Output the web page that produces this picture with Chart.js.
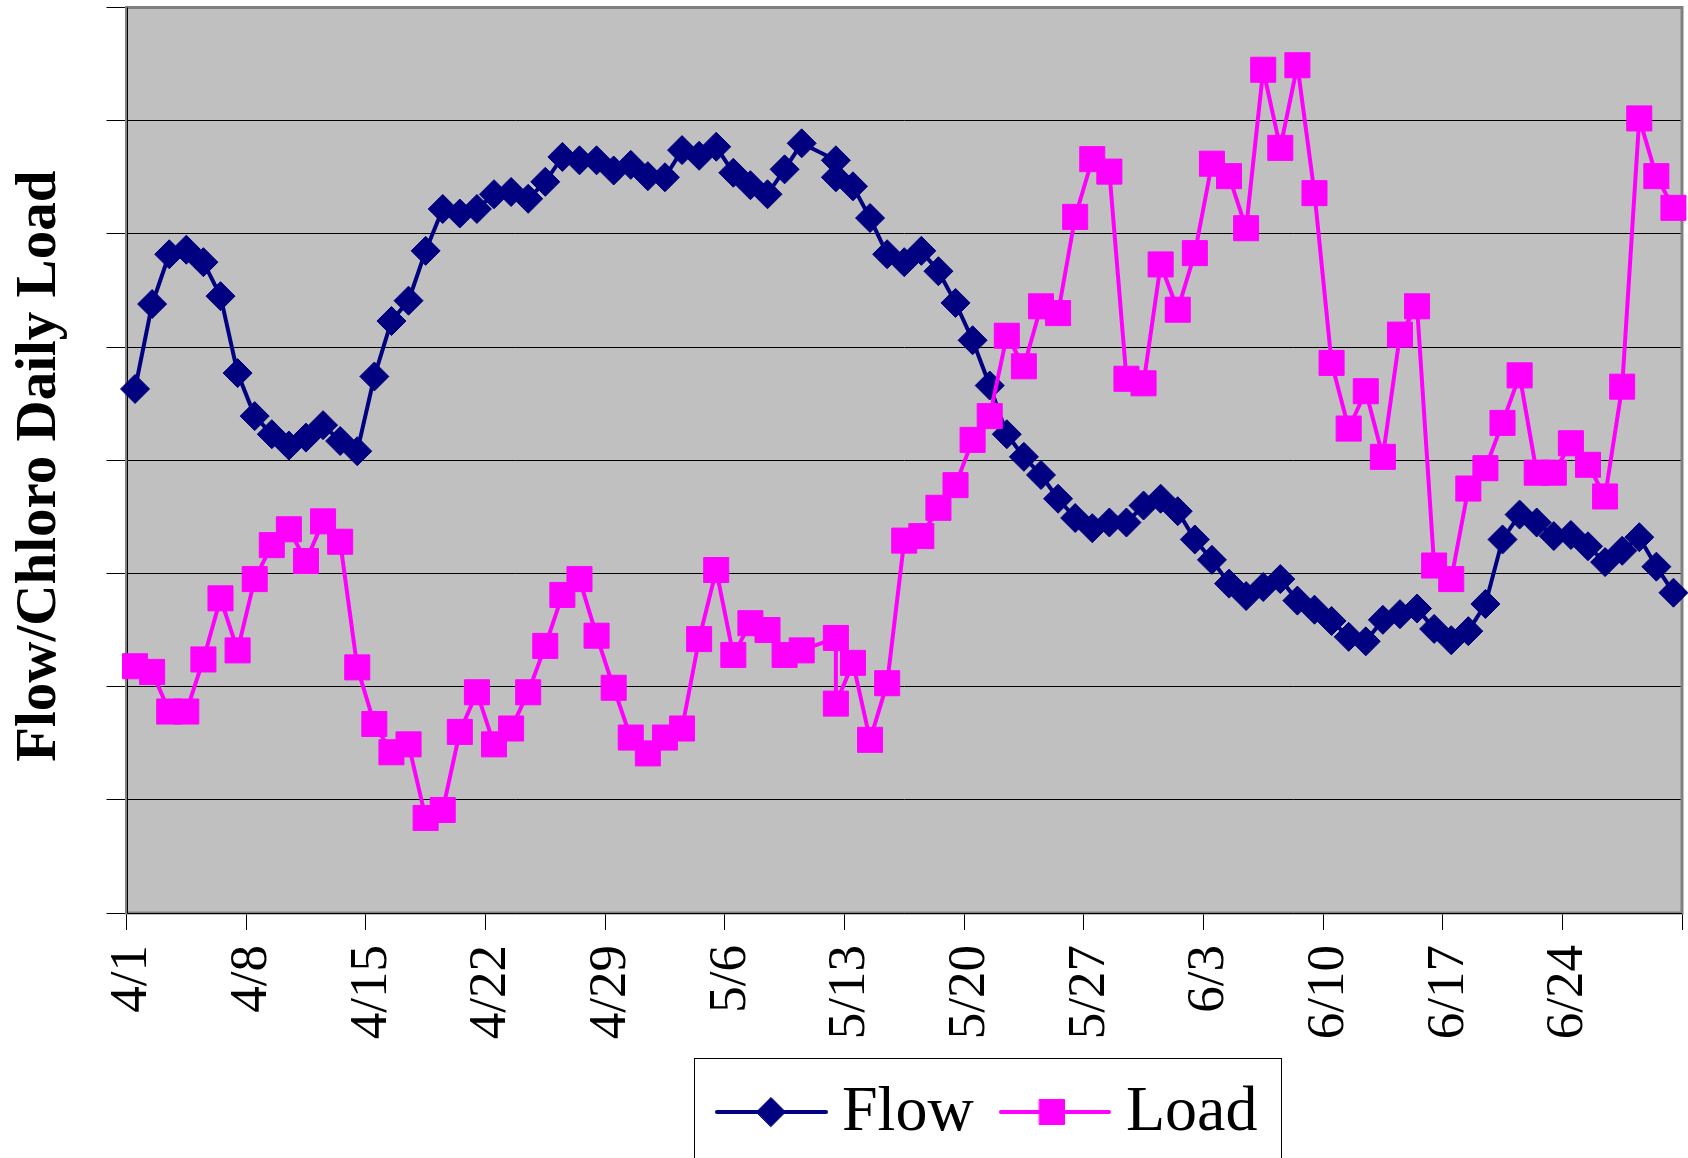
<!DOCTYPE html>
<html>
<head>
<meta charset="utf-8">
<script src="https://cdn.jsdelivr.net/npm/chart.js@4/dist/chart.umd.min.js"></script>
<style>
  html, body { margin: 0; padding: 0; background: #ffffff; }
  #wrap { position: relative; width: 1688px; height: 1158px; }
</style>
</head>
<body>
<div id="wrap"><canvas id="c" width="1688" height="1158"></canvas></div>
<script>
// ---- data ----
const dates = [
  '4/1','4/2','4/3','4/4','4/5','4/6','4/7','4/8','4/9','4/10',
  '4/11','4/12','4/13','4/14','4/15','4/16','4/17','4/18','4/19','4/20',
  '4/21','4/22','4/23','4/24','4/25','4/26','4/27','4/28','4/29','4/30',
  '5/1','5/2','5/3','5/4','5/5','5/6','5/7','5/8','5/9','5/10',
  '5/12','5/12','5/13','5/14','5/15','5/16','5/17','5/18','5/19','5/20',
  '5/21','5/22','5/23','5/24','5/25','5/26','5/27','5/28','5/29','5/30',
  '5/31','6/1','6/2','6/3','6/4','6/5','6/6','6/7','6/8','6/9',
  '6/10','6/11','6/12','6/13','6/14','6/15','6/16','6/17','6/18','6/19',
  '6/20','6/21','6/22','6/23','6/24','6/25','6/26','6/27','6/28','6/29',
  '6/30'
];
const flow = [
  4.63,5.38,5.82,5.86,5.75,5.45,4.77,4.39,4.23,4.13,
  4.20,4.31,4.17,4.08,4.74,5.23,5.41,5.85,6.22,6.18,
  6.22,6.35,6.37,6.31,6.46,6.68,6.65,6.65,6.56,6.61,
  6.51,6.50,6.74,6.69,6.77,6.54,6.43,6.35,6.57,6.80,
  6.65,6.50,6.42,6.14,5.82,5.75,5.85,5.67,5.39,5.06,
  4.66,4.23,4.03,3.87,3.66,3.49,3.40,3.45,3.45,3.60,
  3.66,3.55,3.30,3.12,2.91,2.80,2.88,2.95,2.76,2.68,
  2.58,2.44,2.40,2.59,2.64,2.69,2.51,2.41,2.49,2.73,
  3.30,3.52,3.45,3.33,3.34,3.24,3.10,3.20,3.32,3.06,
  2.83
];
const load = [
  2.18,2.13,1.78,1.78,2.24,2.78,2.32,2.95,3.25,3.39,
  3.11,3.46,3.28,2.17,1.67,1.42,1.49,0.84,0.91,1.60,
  1.95,1.49,1.63,1.95,2.36,2.81,2.95,2.45,1.99,1.55,
  1.41,1.55,1.63,2.42,3.03,2.28,2.56,2.50,2.28,2.32,
  2.43,1.85,2.21,1.53,2.03,3.29,3.33,3.58,3.78,4.18,
  4.39,5.10,4.83,5.36,5.30,6.15,6.66,6.55,4.72,4.68,
  5.73,5.33,5.83,6.62,6.51,6.05,7.45,6.76,7.49,6.36,
  4.86,4.28,4.61,4.03,5.11,5.36,3.07,2.95,3.75,3.93,
  4.33,4.75,3.89,3.89,4.15,3.96,3.68,4.65,7.02,6.51,
  6.23
];
const tickLabels = ['4/1','4/8','4/15','4/22','4/29','5/6','5/13','5/20','5/27','6/3','6/10','6/17','6/24'];
const seriesNames = ['Flow', 'Load'];
const yTitle = 'Flow/Chloro Daily Load';

// day position of a date on the axis (centre of that day's slot)
const firstDay = new Date(2000, 3, 1);
function dayPos(s) {
  const p = s.split('/').map(Number);
  const d = new Date(2000, p[0] - 1, p[1]);
  return Math.round((d - firstDay) / 86400000) + 0.5;
}
const flowPts = dates.map((d, i) => ({ x: dayPos(d), y: flow[i] }));
const loadPts = dates.map((d, i) => ({ x: dayPos(d), y: load[i] }));

const SERIF = "'Liberation Serif', 'Times New Roman', serif";
const NAVY = '#000080';
const MAG = '#FF00FF';

const plotDecor = {
  id: 'plotDecor',
  beforeDraw(chart) {
    const { ctx, chartArea: a } = chart;
    ctx.save();
    ctx.fillStyle = '#ffffff';
    ctx.fillRect(0, 0, chart.width, chart.height);
    ctx.fillStyle = '#C0C0C0';
    ctx.fillRect(a.left, a.top, a.right - a.left, a.bottom - a.top);
    ctx.restore();
  },
  beforeDatasetsDraw(chart) {
    const { ctx, chartArea: a } = chart;
    ctx.save();
    ctx.strokeStyle = '#808080';
    ctx.lineWidth = 3;
    ctx.strokeRect(a.left, a.top, a.right - a.left, a.bottom - a.top);
    ctx.strokeStyle = '#000000';
    ctx.lineWidth = 1;
    ctx.beginPath();
    ctx.moveTo(Math.round(a.left) + 0.5, a.top);
    ctx.lineTo(Math.round(a.left) + 0.5, Math.round(a.bottom) + 0.5);
    ctx.lineTo(a.right, Math.round(a.bottom) + 0.5);
    ctx.stroke();
    ctx.restore();
  },
  afterDraw(chart) {
    const ctx = chart.ctx;
    const ds = chart.data.datasets;
    const a = chart.chartArea;
    ctx.save();
    // y axis title
    ctx.save();
    ctx.translate(40, (a.top + a.bottom) / 2 + 6);
    ctx.rotate(-Math.PI / 2);
    ctx.fillStyle = '#000000';
    ctx.font = 'bold 57px ' + SERIF;
    ctx.textAlign = 'center';
    ctx.textBaseline = 'middle';
    ctx.fillText(yTitle, 0, 0);
    ctx.restore();
    // legend box
    ctx.strokeStyle = '#000000';
    ctx.lineWidth = 1;
    ctx.strokeRect(694.5, 1058.5, 587, 200);
    const ly = 1112;
    const items = [
      { ds: ds[0], x0: 717, x1: 826, mx: 771, tx: 842 },
      { ds: ds[1], x0: 1001, x1: 1109, mx: 1052, tx: 1126 }
    ];
    items.forEach(it => {
      ctx.strokeStyle = it.ds.borderColor;
      ctx.lineWidth = 4;
      ctx.lineCap = 'round';
      ctx.beginPath();
      ctx.moveTo(it.x0, ly);
      ctx.lineTo(it.x1, ly);
      ctx.stroke();
      ctx.fillStyle = it.ds.pointBackgroundColor;
      ctx.strokeStyle = it.ds.pointBorderColor;
      ctx.lineWidth = 1;
      Chart.helpers.drawPoint(ctx, { pointStyle: it.ds.pointStyle, radius: it.ds.pointRadius, borderWidth: 1, rotation: 0 }, it.mx, ly);
      ctx.fillStyle = '#000000';
      ctx.font = '64px ' + SERIF;
      ctx.textBaseline = 'alphabetic';
      ctx.textAlign = 'left';
      ctx.fillText(it.ds.label, it.tx, 1130);
    });
    ctx.restore();
  }
};

new Chart(document.getElementById('c').getContext('2d'), {
  type: 'line',
  data: {
    datasets: [
      {
        label: seriesNames[0], data: flowPts, order: 1,
        borderColor: NAVY, backgroundColor: NAVY, borderWidth: 4,
        pointStyle: 'rectRot', pointRadius: 14.5, pointBorderWidth: 1,
        pointBackgroundColor: NAVY, pointBorderColor: NAVY,
        tension: 0, fill: false, clip: false
      },
      {
        label: seriesNames[1], data: loadPts, order: 0,
        borderColor: MAG, backgroundColor: MAG, borderWidth: 4,
        pointStyle: 'rect', pointRadius: 17.7, pointBorderWidth: 1,
        pointBackgroundColor: MAG, pointBorderColor: MAG,
        tension: 0, fill: false, clip: false
      }
    ]
  },
  options: {
    responsive: false,
    animation: false,
    devicePixelRatio: 1,
    layout: { autoPadding: false, padding: { top: 7.5, right: 6, left: 0, bottom: 0 } },
    plugins: { legend: { display: false }, tooltip: { enabled: false } },
    scales: {
      x: {
        type: 'linear', min: 0, max: 91,
        afterFit(scale) { scale.height = 245; scale.paddingLeft = 0; scale.paddingRight = 0; },
        ticks: {
          stepSize: 7, autoSkip: false, minRotation: 90, maxRotation: 90,
          padding: 15, labelOffset: 6, color: '#000000',
          font: { family: SERIF, size: 53 },
          callback: (v) => { const k = Math.round(v / 7); return tickLabels[k] !== undefined ? tickLabels[k] : ''; }
        },
        grid: { drawOnChartArea: false, drawTicks: true, tickLength: 17, color: '#000000', lineWidth: 1 },
        border: { display: false }
      },
      y: {
        min: 0, max: 8,
        afterFit(scale) { scale.width = 126.5; },
        ticks: { stepSize: 1, display: false },
        grid: { color: '#000000', lineWidth: 1, drawTicks: true, tickLength: 20 },
        border: { display: false },
        title: { display: false }
      }
    }
  },
  plugins: [plotDecor]
});
</script>
</body>
</html>
